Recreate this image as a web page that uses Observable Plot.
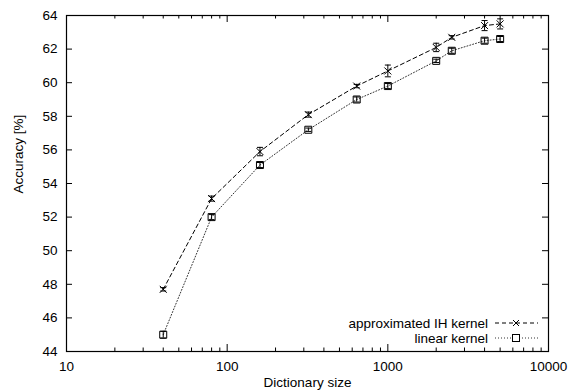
<!DOCTYPE html>
<html><head><meta charset="utf-8">
<script src="https://cdn.jsdelivr.net/npm/d3@7"></script>
<script src="https://cdn.jsdelivr.net/npm/@observablehq/plot@0.6"></script>
<style>body{margin:0;background:#fff} svg{display:block}</style>
</head><body><div id="chart"></div>
<script>
// Data
const sizes  = [40, 80, 160, 320, 640, 1000, 2000, 2500, 4000, 5000];
const ihAcc  = [47.7, 53.1, 55.9, 58.1, 59.8, 60.7, 62.1, 62.7, 63.4, 63.5];
const ihErr  = [0.1, 0.15, 0.25, 0.15, 0.1, 0.35, 0.25, 0.1, 0.3, 0.3];
const linAcc = [45.0, 52.0, 55.1, 57.2, 59.0, 59.8, 61.3, 61.9, 62.5, 62.6];
const linErr = [0.2, 0.15, 0.15, 0.1, 0.15, 0.15, 0.1, 0.15, 0.15, 0.15];
const xMajor = [10, 100, 1000, 10000];
const xMinor = [20,30,40,50,60,70,80,90,200,300,400,500,600,700,800,900,2000,3000,4000,5000,6000,7000,8000,9000];
const yTicks = [44, 46, 48, 50, 52, 54, 56, 58, 60, 62, 64];
const seriesNames = ["approximated IH kernel", "linear kernel"];
const xLabel = "Dictionary size";
const yLabel = "Accuracy [%]";

const W = 570, H = 392, mL = 66, mR = 22, mT = 15, mB = 41;
const plotW = W - mL - mR, plotH = H - mT - mB;
const FONT = "Liberation Sans, Arial, Helvetica, sans-serif";
const FS = 13.5;

const ih = sizes.map((s, i) => ({size: s, acc: ihAcc[i], err: ihErr[i]}));
const lin = sizes.map((s, i) => ({size: s, acc: linAcc[i], err: linErr[i]}));

const capSym = {draw(c) { c.moveTo(-3, 0); c.lineTo(3, 0); }};
const timesSym = {draw(c) { c.moveTo(-3.5, -3.5); c.lineTo(3.5, 3.5); c.moveTo(-3.5, 3.5); c.lineTo(3.5, -3.5); }};
const squareSym = {draw(c) { c.moveTo(-3.5, -3.5); c.lineTo(3.5, -3.5); c.lineTo(3.5, 3.5); c.lineTo(-3.5, 3.5); c.closePath(); }};

function errMarks(data, sym) {
  return [
    Plot.ruleX(data, {x: "size", y1: d => d.acc - d.err, y2: d => d.acc + d.err, stroke: "black", strokeWidth: 1}),
    Plot.dot(data, {x: "size", y: d => d.acc + d.err, symbol: capSym, stroke: "black", strokeWidth: 1}),
    Plot.dot(data, {x: "size", y: d => d.acc - d.err, symbol: capSym, stroke: "black", strokeWidth: 1}),
    Plot.dot(data, {x: "size", y: "acc", symbol: sym, stroke: "black", fill: "none", strokeWidth: 1})
  ];
}

const chart = Plot.plot({
  width: W, height: H,
  marginLeft: mL, marginRight: mR, marginTop: mT, marginBottom: mB,
  style: {fontFamily: FONT, fontSize: FS + "px", background: "#fff", color: "black"},
  x: {type: "log", domain: [10, 10000]},
  y: {domain: [44, 64]},
  marks: [
    Plot.axisX({ticks: xMajor, tickSize: 0, tickPadding: 10, tickFormat: d => String(d), label: null, fontSize: FS}),
    Plot.axisY({ticks: yTicks, tickSize: 0, tickPadding: 9, tickFormat: d => String(d), label: null, fontSize: FS}),
    // inward ticks
    Plot.tickX(xMajor, {insetTop: plotH - 7, stroke: "black"}),
    Plot.tickX(xMajor, {insetBottom: plotH - 7, stroke: "black"}),
    Plot.tickX(xMinor, {insetTop: plotH - 3.5, stroke: "black"}),
    Plot.tickX(xMinor, {insetBottom: plotH - 3.5, stroke: "black"}),
    Plot.tickY(yTicks, {insetRight: plotW - 6, stroke: "black"}),
    Plot.tickY(yTicks, {insetLeft: plotW - 6, stroke: "black"}),
    // series
    Plot.line(ih, {x: "size", y: "acc", stroke: "black", strokeWidth: 1, strokeDasharray: "4,3"}),
    Plot.line(lin, {x: "size", y: "acc", stroke: "#333", strokeWidth: 1, strokeDasharray: "1,2"}),
    ...errMarks(ih, timesSym),
    ...errMarks(lin, squareSym),
    Plot.frame({stroke: "black", strokeWidth: 1.2}),
    // axis titles
    Plot.text([xLabel], {frameAnchor: "bottom", dy: 35, fontSize: FS, fill: "black"}),
    Plot.text([yLabel], {frameAnchor: "left", rotate: -90, dx: -48, dy: 10, fontSize: FS, fill: "black"})
  ]
});
document.getElementById("chart").appendChild(chart);

// Legend (inside plot, bottom right)
const svg = d3.select(chart);
const lg = svg.append("g").attr("font-family", FONT).attr("font-size", FS);
const rows = [
  {name: seriesNames[0], y: 323, dash: "4,3", stroke: "black", sym: "times"},
  {name: seriesNames[1], y: 338, dash: "1,2", stroke: "#333", sym: "square"}
];
for (const r of rows) {
  lg.append("text").attr("x", 488).attr("y", r.y).attr("dy", "0.35em").attr("text-anchor", "end").attr("fill", "black").text(r.name);
  lg.append("line").attr("x1", 495).attr("x2", 538).attr("y1", r.y).attr("y2", r.y).attr("stroke", r.stroke).attr("stroke-dasharray", r.dash);
  const cx = 516;
  if (r.sym === "times") {
    lg.append("path").attr("d", `M${cx-3},${r.y-3}L${cx+3},${r.y+3}M${cx-3},${r.y+3}L${cx+3},${r.y-3}`).attr("stroke", "black").attr("fill", "none");
  } else {
    lg.append("rect").attr("x", cx - 3.5).attr("y", r.y - 3.5).attr("width", 7).attr("height", 7).attr("stroke", "black").attr("fill", "white");
  }
}
</script>
</body></html>
